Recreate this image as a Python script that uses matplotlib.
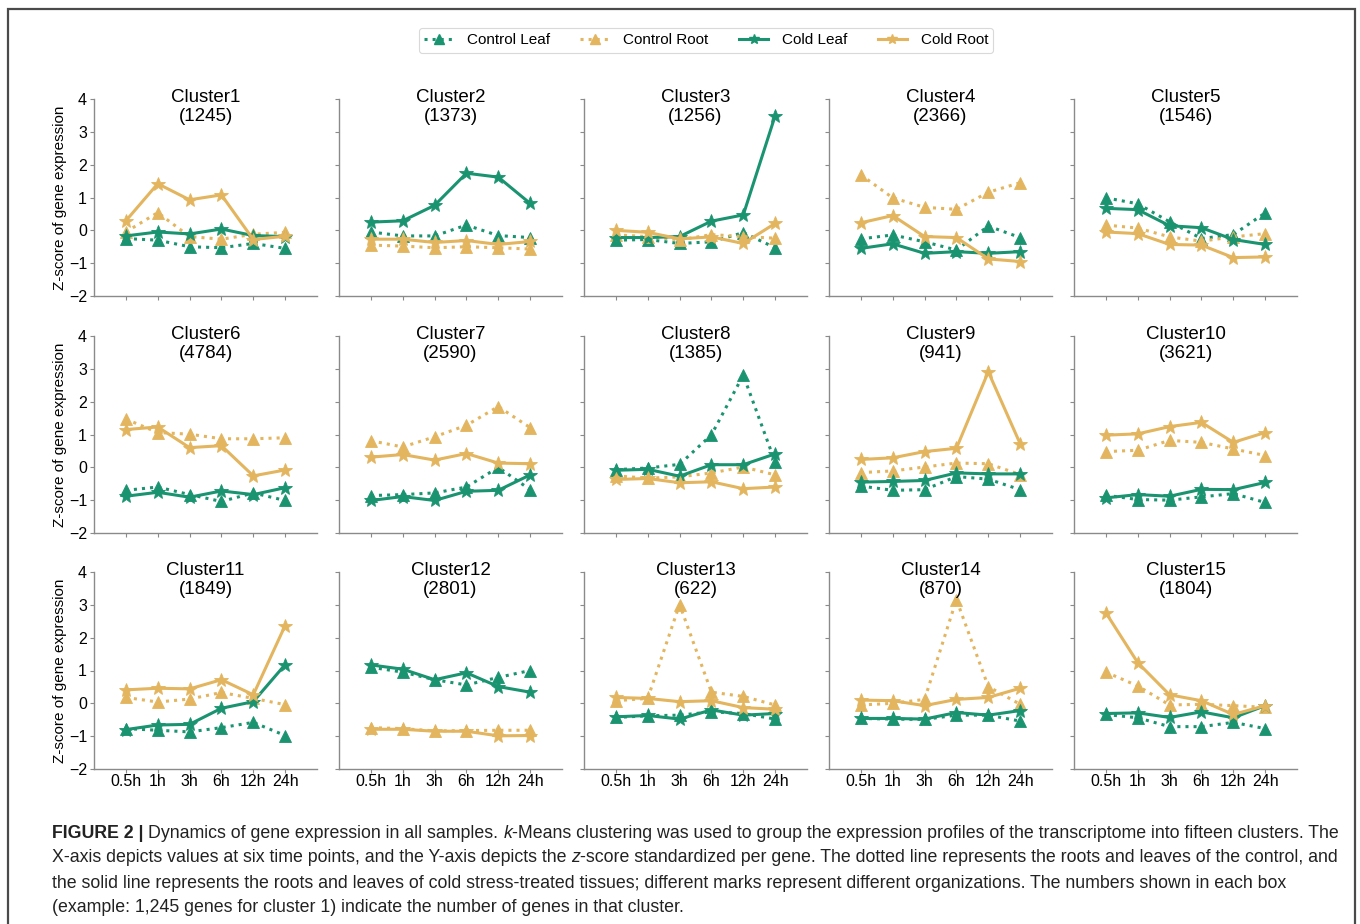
import matplotlib
matplotlib.use("Agg")
import matplotlib.pyplot as plt
from matplotlib.lines import Line2D
from matplotlib.patches import Rectangle

plt.rcParams["font.family"] = ["Liberation Sans", "DejaVu Sans"]

times = ["0.5h", "1h", "3h", "6h", "12h", "24h"]
clusters = ["Cluster1", "Cluster2", "Cluster3", "Cluster4", "Cluster5",
            "Cluster6", "Cluster7", "Cluster8", "Cluster9", "Cluster10",
            "Cluster11", "Cluster12", "Cluster13", "Cluster14", "Cluster15"]
gene_counts = [1245, 1373, 1256, 2366, 1546, 4784, 2590, 1385, 941, 3621,
               1849, 2801, 622, 870, 1804]

# z-scores per cluster, one row per time point order above
control_leaf = [
    [-0.25, -0.30, -0.50, -0.53, -0.40, -0.55],
    [-0.05, -0.17, -0.17, 0.16, -0.16, -0.22],
    [-0.30, -0.28, -0.40, -0.35, -0.07, -0.53],
    [-0.26, -0.14, -0.35, -0.60, 0.13, -0.22],
    [0.99, 0.81, 0.26, -0.25, -0.13, 0.53],
    [-0.70, -0.60, -0.83, -1.04, -0.78, -1.01],
    [-0.86, -0.83, -0.78, -0.60, 0.00, -0.68],
    [-0.07, -0.02, 0.09, 0.99, 2.81, 0.16],
    [-0.57, -0.70, -0.68, -0.28, -0.36, -0.68],
    [-0.85, -0.98, -1.00, -0.90, -0.80, -1.07],
    [-0.77, -0.82, -0.87, -0.74, -0.58, -0.98],
    [1.10, 0.95, 0.72, 0.56, 0.79, 1.00],
    [-0.43, -0.38, -0.36, -0.26, -0.31, -0.48],
    [-0.46, -0.48, -0.49, -0.36, -0.36, -0.54],
    [-0.34, -0.44, -0.71, -0.71, -0.58, -0.77],
]
control_root = [
    [-0.05, 0.54, -0.19, -0.27, -0.12, -0.06],
    [-0.45, -0.48, -0.53, -0.50, -0.53, -0.57],
    [-0.14, -0.19, -0.29, -0.13, -0.19, -0.24],
    [1.69, 0.99, 0.70, 0.64, 1.16, 1.45],
    [0.16, 0.07, -0.20, -0.33, -0.20, -0.10],
    [1.47, 1.06, 1.01, 0.87, 0.87, 0.90],
    [0.81, 0.62, 0.93, 1.28, 1.85, 1.21],
    [-0.26, -0.33, -0.29, -0.17, 0.01, -0.23],
    [-0.16, -0.11, 0.01, 0.13, 0.11, -0.22],
    [0.48, 0.52, 0.82, 0.76, 0.56, 0.36],
    [0.18, 0.04, 0.13, 0.33, 0.15, -0.04],
    [-0.74, -0.77, -0.84, -0.83, -0.82, -0.82],
    [0.08, 0.15, 3.01, 0.34, 0.21, -0.05],
    [-0.05, 0.00, 0.12, 3.16, 0.51, -0.03],
    [0.95, 0.53, -0.05, -0.03, -0.07, -0.12],
]
cold_leaf = [
    [-0.17, -0.05, -0.11, 0.04, -0.16, -0.19],
    [0.25, 0.29, 0.76, 1.74, 1.62, 0.82],
    [-0.22, -0.22, -0.19, 0.28, 0.47, 3.49],
    [-0.55, -0.41, -0.70, -0.65, -0.70, -0.65],
    [0.67, 0.63, 0.14, 0.08, -0.28, -0.43],
    [-0.88, -0.76, -0.91, -0.72, -0.83, -0.62],
    [-1.01, -0.89, -1.01, -0.73, -0.70, -0.23],
    [-0.09, -0.06, -0.27, 0.08, 0.08, 0.41],
    [-0.45, -0.43, -0.40, -0.17, -0.20, -0.20],
    [-0.93, -0.83, -0.88, -0.67, -0.68, -0.46],
    [-0.80, -0.66, -0.64, -0.15, 0.05, 1.18],
    [1.17, 1.04, 0.72, 0.93, 0.51, 0.34],
    [-0.41, -0.37, -0.48, -0.20, -0.36, -0.31],
    [-0.46, -0.46, -0.48, -0.28, -0.36, -0.22],
    [-0.31, -0.29, -0.43, -0.26, -0.44, -0.07],
]
cold_root = [
    [0.29, 1.42, 0.93, 1.08, -0.28, -0.18],
    [-0.27, -0.27, -0.37, -0.31, -0.43, -0.34],
    [0.00, -0.06, -0.26, -0.20, -0.40, 0.21],
    [0.23, 0.45, -0.19, -0.22, -0.87, -0.95],
    [-0.05, -0.10, -0.43, -0.45, -0.83, -0.81],
    [1.15, 1.23, 0.60, 0.66, -0.26, -0.08],
    [0.31, 0.39, 0.22, 0.42, 0.13, 0.11],
    [-0.37, -0.34, -0.47, -0.44, -0.65, -0.60],
    [0.24, 0.29, 0.48, 0.58, 2.91, 0.72],
    [0.98, 1.02, 1.24, 1.37, 0.76, 1.06],
    [0.41, 0.46, 0.44, 0.72, 0.26, 2.37],
    [-0.79, -0.79, -0.85, -0.85, -0.99, -0.98],
    [0.18, 0.15, 0.05, 0.08, -0.13, -0.18],
    [0.10, 0.08, -0.07, 0.12, 0.18, 0.46],
    [2.76, 1.24, 0.26, 0.08, -0.34, -0.07],
]

green = "#1a9470"
gold = "#e3b55e"

W, H = 1360, 924
fig = plt.figure(figsize=(W / 100, H / 100), dpi=100)

# outer frame
fig.patches.append(Rectangle((8 / W, -0.02), (1355 - 8) / W, 1 - 9 / H + 0.02,
                             transform=fig.transFigure, fill=False,
                             edgecolor="#4a4a4a", linewidth=1.6))

col_left = [94, 339, 584, 829, 1074]
row_top = [99, 336, 572]
ax_w, ax_h = 223, 197
x = list(range(len(times)))

series = [
    (control_leaf, green, ":", "^", "Control Leaf"),
    (control_root, gold, ":", "^", "Control Root"),
    (cold_leaf, green, "-", "*", "Cold Leaf"),
    (cold_root, gold, "-", "*", "Cold Root"),
]

for i, name in enumerate(clusters):
    r, c = divmod(i, 5)
    ax = fig.add_axes([col_left[c] / W, 1 - (row_top[r] + ax_h) / H,
                       ax_w / W, ax_h / H])
    for data, color, ls, mk, lab in series:
        ax.plot(x, data[i], color=color, linestyle=ls, linewidth=2.2,
                marker=mk, markersize=9 if mk == "^" else 10,
                markeredgecolor=color, markeredgewidth=0.6)
    ax.set_xlim(-1, 6)
    ax.set_ylim(-2, 4)
    ax.set_yticks(range(-2, 5))
    ax.set_xticks(x)
    for s in ["top", "right"]:
        ax.spines[s].set_visible(False)
    for s in ["left", "bottom"]:
        ax.spines[s].set_color("#8a8a8a")
        ax.spines[s].set_linewidth(1.0)
    ax.tick_params(colors="#8a8a8a", labelcolor="black", length=3,
                   width=0.8, labelsize=11.5, pad=2)
    ax.tick_params(axis="x", pad=0.5)
    if c == 0:
        ax.set_ylabel("Z-score of gene expression", fontsize=11, labelpad=1)
    else:
        ax.set_yticklabels([])
    if r == 2:
        ax.set_xticklabels(times)
    else:
        ax.set_xticklabels([])
    ax.text(0.5, 1.05, f"{name}\n({gene_counts[i]})", transform=ax.transAxes,
            ha="center", va="top", fontsize=13.5, linespacing=1.12)

handles = [Line2D([], [], color=col, linestyle=ls, linewidth=2.2, marker=mk,
                  markersize=7, markeredgecolor=col)
           for _, col, ls, mk, _ in series]
labels = [s[4] for s in series]
leg = fig.legend(handles, labels, loc="center", ncol=4,
                 bbox_to_anchor=(706 / W, 1 - 40.5 / H), fontsize=11,
                 handlelength=1.9, columnspacing=2.0, handletextpad=0.9,
                 frameon=True, borderpad=0.35, fancybox=True)
leg.get_frame().set_edgecolor("#d0d0d0")
leg.get_frame().set_linewidth(0.8)

# caption, drawn piece by piece so bold/italic parts can be mixed
caption_lines = [
    [("FIGURE 2 |", "bold", "normal"), (" ", None, None),
     ("Dynamics of gene expression in all samples.", "normal", "normal"), (" ", None, None),
     ("k", "normal", "italic"),
     ("-Means clustering was used to group the expression profiles of the transcriptome into fifteen clusters. The",
      "normal", "normal")],
    [("X-axis depicts values at six time points, and the Y-axis depicts the", "normal", "normal"),
     (" ", None, None), ("z", "normal", "italic"),
     ("-score standardized per gene. The dotted line represents the roots and leaves of the control, and",
      "normal", "normal")],
    [("the solid line represents the roots and leaves of cold stress-treated tissues; different marks represent different organizations. The numbers shown in each box",
      "normal", "normal")],
    [("(example: 1,245 genes for cluster 1) indicate the number of genes in that cluster.",
      "normal", "normal")],
]
cap_size = 12.8
cap_color = "#222222"
renderer = fig.canvas.get_renderer()
probe1 = fig.text(0, 0, "a a", fontsize=cap_size)
probe2 = fig.text(0, 0, "aa", fontsize=cap_size)
space_w = (probe1.get_window_extent(renderer).width
           - probe2.get_window_extent(renderer).width)
probe1.remove()
probe2.remove()

for li, pieces in enumerate(caption_lines):
    xpix = 52
    ypix = 833 + 25 * li
    for text, weight, style in pieces:
        if weight is None:
            xpix += space_w
            continue
        t = fig.text(xpix / W, 1 - ypix / H, text, fontsize=cap_size,
                     fontweight=weight, fontstyle=style, color=cap_color,
                     va="center", ha="left")
        xpix += t.get_window_extent(renderer).width

fig.savefig("out.png", dpi=100)
